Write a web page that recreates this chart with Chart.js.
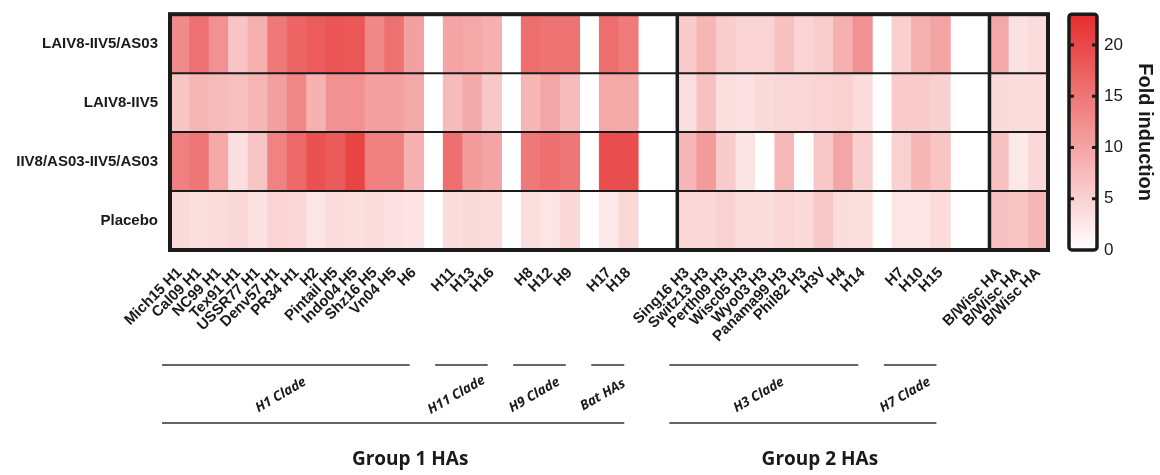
<!DOCTYPE html>
<html>
<head>
<meta charset="utf-8">
<script src="https://cdn.jsdelivr.net/npm/chart.js@4.4.1/dist/chart.umd.min.js"></script>
<style>
  html, body { margin: 0; padding: 0; background: #fff; }
  #wrap { width: 1160px; height: 475px; }
</style>
</head>
<body>
<div id="wrap"><canvas id="heatmap"></canvas></div>
<script>
// columns, '' = empty spacer column
const columns = [
    'Mich15 H1', 'Cal09 H1', 'NC99 H1', 'Tex91 H1', 'USSR77 H1', 'Denv57 H1', 'PR34 H1', 'H2',
    'Pintail H5', 'Indo04 H5', 'Shz16 H5', 'Vn04 H5', 'H6', '',
    'H11', 'H13', 'H16', '',
    'H8', 'H12', 'H9', '',
    'H17', 'H18', '', '',
    'Sing16 H3', 'Switz13 H3', 'Perth09 H3', 'Wisc05 H3', 'Wyo03 H3', 'Panama99 H3', 'Phil82 H3',
    'H3V', 'H4', 'H14', '',
    'H7', 'H10', 'H15', '', '',
    'B/Wisc HA', 'B/Wisc HA', 'B/Wisc HA'
];

const rowNames = ['LAIV8-IIV5/AS03', 'LAIV8-IIV5', 'IIV8/AS03-IIV5/AS03', 'Placebo'];

// fold induction per column (null = spacer)
const laivAs03 = [
    12.8, 15.6, 12, 6.5, 8.7, 14.8, 16.9, 17.9, 18.6, 18.3, 13, 15.6, 10.4, null,
    10, 9.5, 8.6, null,
    16, 15.2, 15.2, null,
    16, 14.5, null, null,
    5.7, 8, 5.5, 4.7, 4.7, 6.8, 4.7, 5.5, 8.6, 12, null,
    5.3, 8.6, 10, null, null,
    9.5, 3.3, 3.9
];
const laiv = [
    6.3, 8, 7.5, 7, 8, 10.5, 13, 8.5, 12, 12, 10.4, 10.4, 9.5, null,
    7.5, 9.3, 6, null,
    8, 9.7, 7.5, null,
    9.5, 9.3, null, null,
    3.5, 6.8, 3.5, 3.3, 4.1, 4.5, 4.5, 4.7, 5, 3.9, null,
    5.7, 5.7, 5.2, null, null,
    4.1, 3.7, 3.7
];
const iivAs03 = [
    14, 15, 9.5, 3.5, 6.3, 13.7, 16.5, 19, 18, 20.5, 14, 14, 8.6, null,
    15.8, 11, 10, null,
    14.8, 15.8, 15, null,
    19.5, 19.5, null, null,
    8, 11, 5.7, 3, 0, 7.8, 0, 6, 9.7, 5.2, null,
    5, 8, 6.5, null, null,
    6.8, 2.5, 4.3
];
const placebo = [
    4.1, 3.5, 3.9, 4.3, 3.3, 4.7, 4.5, 2.8, 3.9, 3.5, 3.9, 3.3, 3, null,
    3.7, 4.1, 3.9, null,
    3.5, 2.8, 4.3, null,
    2.5, 4.3, null, null,
    4.5, 4.3, 5, 3.7, 3.7, 4.5, 4.1, 6, 3.7, 3.5, null,
    2.8, 2.8, 3.9, null, null,
    6.8, 6.5, 8
];

// colour scale ticks
const colorTicks = [0, 5, 10, 15, 20];
const colorMax = 23;

// bracket annotations under the axis (column indexes)
const clades = [
    { name: 'H1 Clade', from: 0, to: 12 },
    { name: 'H11 Clade', from: 14, to: 16 },
    { name: 'H9 Clade', from: 18, to: 20 },
    { name: 'Bat HAs', from: 22, to: 23 },
    { name: 'H3 Clade', from: 26, to: 35 },
    { name: 'H7 Clade', from: 37, to: 39 }
];
const groups = [
    { name: 'Group 1 HAs', from: 0, to: 23 },
    { name: 'Group 2 HAs', from: 26, to: 39 }
];
const groupStarts = [26, 42];

const rows = [laivAs03, laiv, iivAs03, placebo];
const textColor = '#1a1a1a';
const labelFont = '"Liberation Sans", Arial, sans-serif';

// 0 -> white, colorMax -> red
function foldColor(v) {
    const t = Math.max(0, Math.min(1, v / colorMax));
    const r = Math.round(255 - 25 * t);
    const gb = Math.round(255 - 210 * t);
    return `rgb(${r},${gb},${gb})`;
}

const framePlugin = {
    id: 'frame',
    afterDatasetsDraw(chart) {
        const { ctx, chartArea: a, scales: { x, y, y2 } } = chart;
        const colW = x.getPixelForValue(1) - x.getPixelForValue(0);
        ctx.save();
        ctx.strokeStyle = '#1a1a1a';

        // row separators
        ctx.lineWidth = 2;
        for (let r = 1; r < rowNames.length; r++) {
            const py = y.getPixelForValue(r);
            ctx.beginPath();
            ctx.moveTo(a.left, py);
            ctx.lineTo(a.right, py);
            ctx.stroke();
        }

        // thick separators between HA groups
        ctx.lineWidth = 3.5;
        groupStarts.forEach(i => {
            const px = x.getPixelForValue(i) - colW / 2;
            ctx.beginPath();
            ctx.moveTo(px, a.top);
            ctx.lineTo(px, a.bottom);
            ctx.stroke();
        });

        // outer frame
        ctx.lineWidth = 4;
        ctx.strokeRect(a.left, a.top, a.right - a.left, a.bottom - a.top);

        // colour bar
        const top = y2.getPixelForValue(colorMax);
        const bottom = y2.getPixelForValue(0);
        const bx = y2.left + 21;
        const bw = 28;
        const grad = ctx.createLinearGradient(0, bottom, 0, top);
        grad.addColorStop(0, foldColor(0));
        grad.addColorStop(1, foldColor(colorMax));
        ctx.fillStyle = grad;
        ctx.fillRect(bx, top, bw, bottom - top);
        ctx.lineWidth = 3.5;
        ctx.beginPath();
        ctx.roundRect(bx, top, bw, bottom - top, 3);
        ctx.stroke();
        ctx.fillStyle = '#1a1a1a';
        colorTicks.forEach(v => {
            if (v === 0) return;
            const py = y2.getPixelForValue(v);
            ctx.fillRect(bx, py - 1.5, 5, 3);
            ctx.fillRect(bx + bw - 5, py - 1.5, 5, 3);
        });
        ctx.restore();
    },
    afterDraw(chart) {
        const { ctx, scales: { x } } = chart;
        const colW = x.getPixelForValue(1) - x.getPixelForValue(0);
        const span = s => [
            x.getPixelForValue(s.from) - colW / 2 - 8,
            x.getPixelForValue(s.to) + colW / 2 - 14
        ];
        const cladeLineY = x.top + 115;
        const groupLineY = x.top + 173;
        ctx.save();
        ctx.strokeStyle = '#333';
        ctx.lineWidth = 1.6;
        ctx.fillStyle = textColor;

        clades.forEach(c => {
            const [x0, x1] = span(c);
            ctx.beginPath();
            ctx.moveTo(x0, cladeLineY);
            ctx.lineTo(x1, cladeLineY);
            ctx.stroke();
            ctx.save();
            ctx.translate((x0 + x1) / 2 - 5, x.top + 145);
            ctx.rotate(-30 * Math.PI / 180);
            ctx.font = 'italic 700 13.5px "Open Sans", sans-serif';
            ctx.textAlign = 'center';
            ctx.textBaseline = 'middle';
            ctx.fillText(c.name, 0, 0);
            ctx.restore();
        });

        groups.forEach(g => {
            const [x0, x1] = span(g);
            ctx.beginPath();
            ctx.moveTo(x0, groupLineY);
            ctx.lineTo(x1, groupLineY);
            ctx.stroke();
            ctx.font = '700 19px "Open Sans", sans-serif';
            ctx.textAlign = 'center';
            ctx.textBaseline = 'middle';
            ctx.fillText(g.name, (x0 + x1) / 2 + 17, x.top + 210);
        });
        ctx.restore();
    }
};

const noTicks = { display: true, drawOnChartArea: false, drawTicks: true, color: 'rgba(0,0,0,0)' };

const ctx = document.getElementById('heatmap').getContext('2d');
const heatmap = new Chart(ctx, {
    type: 'bar',
    data: {
        labels: columns,
        datasets: rows.map((vals, r) => ({
            label: rowNames[r],
            data: vals.map(v => (v === null ? null : [r, r + 1])),
            backgroundColor: vals.map(v => foldColor(v === null ? 0 : v)),
            borderWidth: 0,
            grouped: false,
            barPercentage: 1,
            categoryPercentage: 1,
            yAxisID: 'y'
        }))
    },
    options: {
        responsive: true,
        maintainAspectRatio: false,
        animation: false,
        layout: { padding: { top: 12 } },
        plugins: {
            legend: { display: false },
            tooltip: { enabled: false }
        },
        scales: {
            x: {
                type: 'category',
                offset: true,
                grid: { display: false, drawTicks: false },
                border: { display: false },
                ticks: {
                    autoSkip: false,
                    minRotation: 45,
                    maxRotation: 45,
                    padding: 14,
                    color: textColor,
                    font: { family: labelFont, size: 15, weight: 'bold' }
                },
                afterFit: axis => { axis.height = 225; }
            },
            y: {
                type: 'linear',
                position: 'left',
                min: 0,
                max: rowNames.length,
                reverse: true,
                grid: { ...noTicks, tickLength: 12 },
                border: { display: false },
                afterBuildTicks: axis => {
                    axis.ticks = rowNames.map((n, i) => ({ value: i + 0.5 }));
                },
                ticks: {
                    padding: 0,
                    color: textColor,
                    font: { family: labelFont, size: 15, weight: 'bold' },
                    callback: v => rowNames[Math.floor(v)]
                },
                afterFit: axis => { axis.width = 170; }
            },
            y2: {
                type: 'linear',
                position: 'right',
                min: 0,
                max: colorMax,
                grid: { ...noTicks, tickLength: 52 },
                border: { display: false },
                afterBuildTicks: axis => {
                    axis.ticks = colorTicks.map(v => ({ value: v }));
                },
                ticks: {
                    padding: 4,
                    color: textColor,
                    font: { family: labelFont, size: 17 }
                },
                title: {
                    display: true,
                    text: 'Fold induction',
                    color: textColor,
                    padding: { top: 3, bottom: 0 },
                    font: { family: labelFont, size: 20, weight: 'bold' }
                },
                afterFit: axis => { axis.width = 112; }
            }
        }
    },
    plugins: [framePlugin]
});
</script>
</body>
</html>
